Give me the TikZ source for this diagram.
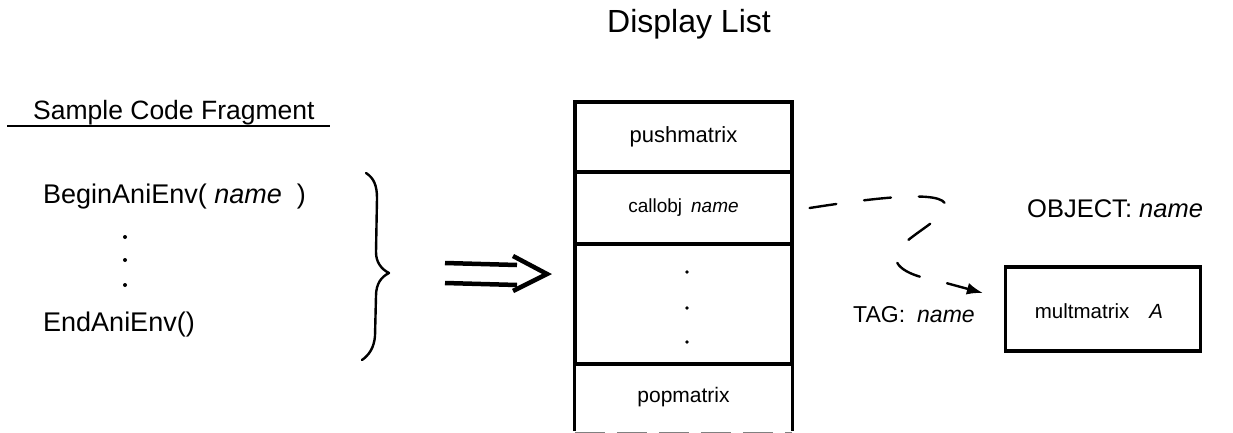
\documentclass[tikz,border=0pt]{standalone}
\usepackage{fontspec}
\setmainfont{Liberation Sans}
\usetikzlibrary{arrows.meta}
\begin{document}
\begin{tikzpicture}[x=1pt,y=-1pt,
  txt/.style={inner sep=0pt, anchor=base west, font=\fontsize{27}{32}\selectfont},
  cell/.style={draw, line width=3.2pt, minimum width=217pt, inner sep=0pt},
  boxed/.style={draw, line width=3.2pt, inner sep=0pt},
  dashline/.style={line width=2.4pt, dash pattern=on 27pt off 28pt, line cap=round},
  stroke/.style={line width=2.4pt, line cap=round, line join=round},
  fat/.style={line width=4.5pt}]
\useasboundingbox (0,0) rectangle (1233,433);

% titles
\node[anchor=base, inner sep=0pt, font=\fontsize{32}{38}\selectfont] (title) at (689,33) {Display List};
\node[txt, font=\fontsize{26.5}{32}\selectfont] (sample) at (33,120) {Sample Code Fragment};
\draw[line width=1.8pt] (7,126) -- (330,126);

% code fragment
\node[txt] (begin) at (43,203) {BeginAniEnv( \textit{name}\ \ )};
\foreach \yy in {237,260,285} \fill (125,\yy) circle (2pt);
\node[txt] (end) at (43,331) {EndAniEnv()};

% curly brace
\draw[stroke] (366,173) .. controls (374,178) and (377,186) .. (377,198)
  -- (376,252) .. controls (376,262) and (381,269) .. (389,273)
  .. controls (381,277) and (376,284) .. (376,296)
  -- (375,336) .. controls (374,348) and (369,355) .. (362,360);

% double arrow
\coordinate (da) at (445,273);
\coordinate (db) at (547,274);
\draw[fat] ([yshift=-10pt]da) -- ([xshift=-30pt,yshift=-11pt]db);
\draw[fat] ([yshift=10pt]da) -- ([xshift=-30pt,yshift=9pt]db);
\draw[fat, line join=miter] ([xshift=-34pt,yshift=-17pt]db) -- (db) -- ([xshift=-34pt,yshift=18pt]db);

% display list stack
\node[cell, minimum height=70pt, font=\fontsize{22}{26}\selectfont] (push) at (683.5,137) {pushmatrix};
\node[cell, minimum height=72pt, font=\fontsize{19}{23}\selectfont] (callobj) at (683.5,208) {callobj\hspace{9pt}\textit{name}};
\node[cell, minimum height=120pt] (more) at (683.5,304) {};
\foreach \yy in {272,308,342} \fill (687,\yy) circle (1.8pt);
\node[minimum width=217pt, minimum height=67pt, inner sep=0pt, font=\fontsize{21}{25}\selectfont] (pop) at (683.5,397.5) {popmatrix};
\draw[line width=3.2pt] (pop.south west) -- (pop.north west) -- (pop.north east) -- (pop.south east);
\draw[line width=0.8pt, gray, dash pattern=on 30pt off 12pt] ([yshift=-1pt]pop.south west) -- ([yshift=-1pt]pop.south east);

% object
\node[txt, font=\fontsize{25.5}{30}\selectfont] (obj) at (1027,217) {OBJECT: \textit{name}};
\node[txt, font=\fontsize{23}{28}\selectfont] (tag) at (853,322) {TAG:\hspace{12pt}\textit{name}};
\node[boxed, minimum width=195pt, minimum height=84pt] (mult) at (1103,309) {};
\node[anchor=base, inner sep=0pt, font=\fontsize{20.5}{24}\selectfont] (multtxt) at (1099,318) {multmatrix\hspace{20pt}\textit{A}};

% reference from the callobj entry to the tagged object
\draw[dashline, -{Latex[length=16pt,width=12pt]}]
  ([xshift=16pt]callobj.east) .. controls (880,197) and (955,188) .. (945,210)
  .. controls (935,224) and (905,238) .. (897,252)
  .. controls (890,268) and (915,277) .. (935,280)
  -- ([xshift=-21pt,yshift=16pt]mult.west);
\end{tikzpicture}
\end{document}
